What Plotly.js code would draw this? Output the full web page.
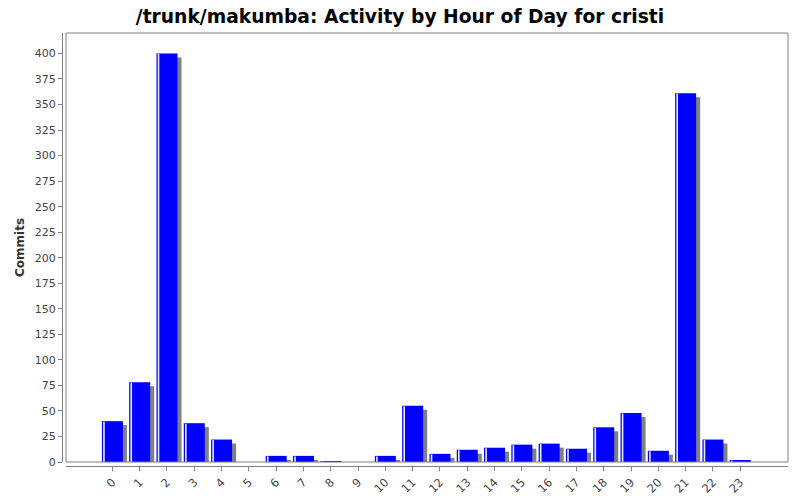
<!DOCTYPE html>
<html>
<head>
<meta charset="utf-8">
<script src="https://cdn.plot.ly/plotly-3.0.1.min.js"></script>
<style>
  html, body { margin: 0; padding: 0; background: #fff; }
  #plot { width: 800px; height: 500px; }
</style>
</head>
<body>
<div id="plot"></div>
<script>
// hours of the day and commit counts
const hours = ['0', '1', '2', '3', '4', '5', '6', '7', '8', '9', '10', '11',
               '12', '13', '14', '15', '16', '17', '18', '19', '20', '21', '22', '23'];
const commits = [40, 78, 400, 38, 22, 0, 6, 6, 1, 0, 6, 55,
                 8, 12, 14, 17, 18, 13, 34, 48, 11, 361, 22, 2];

const yTicks = [0, 25, 50, 75, 100, 125, 150, 175, 200, 225, 250, 275, 300, 325, 350, 375, 400];

const barWidth = 0.77;
const barOffset = -0.385;
const shadowShift = 0.147;   // ~4px to the right
const shadowDrop = 3.9;      // ~4px down

// category index positions, so bars can be shifted by fractions of a slot
const xs = hours.map((h, i) => i);

const shadow = {
    type: 'bar',
    x: xs,
    y: commits.map(v => Math.max(v - shadowDrop, 0)),
    width: barWidth,
    offset: barOffset + shadowShift,
    marker: { color: '#808080', line: { width: 0 } },
    hoverinfo: 'skip'
};

const main = {
    type: 'bar',
    x: xs,
    y: commits,
    width: barWidth,
    offset: barOffset,
    marker: { color: '#0000ff', line: { width: 0 } },
    name: 'Commits'
};

// thin white highlight near the left edge of each bar
const highlight = {
    type: 'bar',
    x: xs,
    y: commits.map(v => v > 0 ? v - 0.5 : 0),
    width: 0.06,
    offset: barOffset + 0.045,
    marker: { color: '#e8e8ff', line: { width: 0 } },
    hoverinfo: 'skip'
};

const layout = {
    width: 800,
    height: 500,
    margin: { l: 62, r: 12, t: 33, b: 34 },
    paper_bgcolor: '#ffffff',
    plot_bgcolor: '#ffffff',
    barmode: 'overlay',
    showlegend: false,
    hovermode: false,
    font: { family: 'DejaVu Sans, sans-serif', color: '#444444', size: 11 },
    title: {
        text: '<b>/trunk/makumba: Activity by Hour of Day for cristi</b>',
        font: { family: 'DejaVu Sans, sans-serif', size: 18.7, color: '#000000' },
        x: 0.5, xanchor: 'center', y: 0.968, yanchor: 'middle'
    },
    xaxis: {
        domain: [0.0055, 1],
        range: [-1.7, 24.75],
        anchor: 'free',
        position: 0,
        tickmode: 'array',
        tickvals: xs,
        ticktext: hours,
        tickangle: -45,
        ticks: 'outside',
        ticklen: 4,
        tickcolor: '#808080',
        showline: true,
        linecolor: '#808080',
        linewidth: 1,
        showgrid: false,
        zeroline: false,
        tickfont: { size: 11.5, color: '#444444' },
        fixedrange: true
    },
    yaxis: {
        domain: [0.0092, 1],
        range: [0, 420],
        anchor: 'free',
        position: 0,
        tickmode: 'array',
        tickvals: yTicks,
        ticks: 'outside',
        ticklen: 4,
        tickcolor: '#808080',
        showline: true,
        linecolor: '#808080',
        linewidth: 1,
        showgrid: false,
        zeroline: false,
        tickfont: { size: 11, color: '#444444' },
        title: {
            text: '<b>Commits</b>',
            font: { size: 12, color: '#333333' },
            standoff: 6
        },
        fixedrange: true
    },
    shapes: [{
        type: 'rect',
        xref: 'x domain', yref: 'y domain',
        x0: 0, x1: 1, y0: 0, y1: 1,
        line: { color: '#808080', width: 1 },
        fillcolor: 'rgba(0,0,0,0)'
    }]
};

Plotly.newPlot('plot', [shadow, main, highlight], layout, { displayModeBar: false, staticPlot: true });
</script>
</body>
</html>
